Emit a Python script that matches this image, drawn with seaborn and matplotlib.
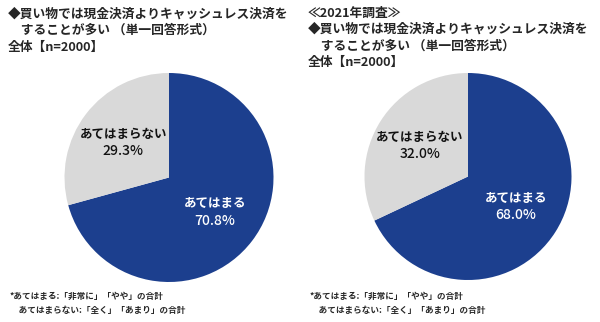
import numpy as np
import matplotlib
matplotlib.use("Agg")
import matplotlib.pyplot as plt
import seaborn as sns

sns.set_theme(style="white")
FAM = ["Noto Sans CJK JP", "DejaVu Sans"]
plt.rcParams["font.family"] = FAM

categories = ["あてはまる", "あてはまらない"]
values_left = [70.8, 29.3]
values_right = [68.0, 32.0]
colors = ["#1c3f8e", "#d9d9d9"]
text_colors = ["white", "#111111"]

title_left = ["◆買い物では現金決済よりキャッシュレス決済を",
              "　することが多い （単一回答形式）",
              "全体【n=2000】"]
title_right = ["≪2021年調査≫",
               "◆買い物では現金決済よりキャッシュレス決済を",
               "　することが多い （単一回答形式）",
               "全体【n=2000】"]
notes = ["*あてはまる:「非常に」「やや」の合計",
         "　あてはまらない:「全く」「あまり」の合計"]

W, H = 600, 322
fig = plt.figure(figsize=(W / 100, H / 100), dpi=100)


def draw_pie(cx, cy, r, values):
    ax = fig.add_axes([(cx - r) / W, (H - cy - r) / H, 2 * r / W, 2 * r / H])
    wedges, _ = ax.pie(values, colors=colors, startangle=90, counterclock=False,
                       radius=1.0, wedgeprops=dict(linewidth=0))
    ax.set_xlim(-1, 1)
    ax.set_ylim(-1, 1)
    ax.set_aspect("equal")
    ax.axis("off")
    for w, cat, v, tc in zip(wedges, categories, values, text_colors):
        ang = np.deg2rad((w.theta1 + w.theta2) / 2)
        x, y = 0.55 * np.cos(ang), 0.55 * np.sin(ang)
        ax.text(x, y + 0.08, cat, ha="center", va="center", color=tc,
                fontsize=9, fontweight="bold", family=FAM)
        ax.text(x, y - 0.08, f"{v:.1f}%", ha="center", va="center", color=tc,
                fontsize=10, fontweight="medium", family=FAM)


draw_pie(169, 177.5, 104.5, values_left)
draw_pie(468, 176.5, 103.5, values_right)

# titles
for i, line in enumerate(title_left):
    fig.text(8 / W, 1 - (14 + 16.5 * i) / H, line, ha="left", va="center",
             fontsize=9.2, fontweight="bold", family=FAM)
for i, line in enumerate(title_right):
    fig.text(308 / W, 1 - (13 + 16.5 * i) / H, line, ha="left", va="center",
             fontsize=9.2, fontweight="bold", family=FAM)

# footnotes
for x0 in (10, 310):
    for i, line in enumerate(notes):
        fig.text(x0 / W, 1 - (296 + 15 * i) / H, line, ha="left", va="center",
                 fontsize=6.2, fontweight="bold", family=FAM)

fig.savefig("out.png", dpi=100)
